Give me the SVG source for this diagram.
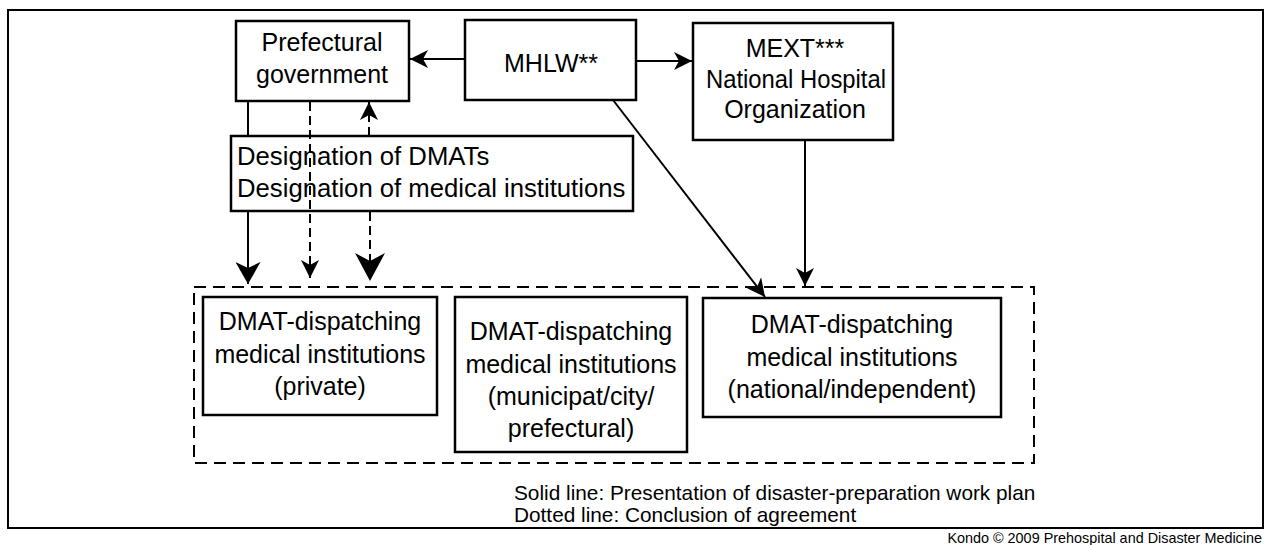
<svg xmlns="http://www.w3.org/2000/svg" width="1270" height="545" viewBox="0 0 1270 545">
<style>
  text { font-family: "Liberation Sans", Arial, sans-serif; fill: #000; }
  .t { font-size: 25px; text-anchor: middle; }
  .d { font-size: 25.7px; }
  .leg { font-size: 20.8px; }
  .cr { font-size: 14.4px; text-anchor: end; }
  .box { fill: none; stroke: #000; stroke-width: 2.5; }
  .frame { fill: none; stroke: #000; stroke-width: 2; }
  .group { fill: none; stroke: #000; stroke-width: 2; stroke-dasharray: 12 7; }
  .ln { fill: none; stroke: #000; stroke-width: 2; }
  .dash { fill: none; stroke: #000; stroke-width: 2; stroke-dasharray: 9 5; }
</style>
<defs>
  <marker id="arr" viewBox="0 0 18 18" markerWidth="18" markerHeight="18" refX="18" refY="9" orient="auto" markerUnits="userSpaceOnUse">
    <path d="M0,0 L18,9 L0,18 L5,9 Z" fill="#000" stroke="none"/>
  </marker>
  <marker id="arrL" viewBox="0 0 22 25" markerWidth="22" markerHeight="25" refX="22" refY="12.5" orient="auto" markerUnits="userSpaceOnUse">
    <path d="M0,0 L22,12.5 L0,25 L6,12.5 Z" fill="#000" stroke="none"/>
  </marker>
  <marker id="arrXL" viewBox="0 0 28 30" markerWidth="28" markerHeight="30" refX="28" refY="15" orient="auto" markerUnits="userSpaceOnUse">
    <path d="M0,0 L28,15 L0,30 L8,15 Z" fill="#000" stroke="none"/>
  </marker>
</defs>
<rect id="frame" class="frame" x="8" y="10" width="1255" height="518"/>
<g id="connectors">
  <line class="ln" x1="465" y1="59" x2="410" y2="59" marker-end="url(#arr)"/>
  <line class="ln" x1="636" y1="61" x2="692" y2="61" marker-end="url(#arr)"/>
  <line class="ln" x1="248" y1="101" x2="248" y2="136"/>
  <line class="ln" x1="248" y1="211" x2="248" y2="284" marker-end="url(#arrL)"/>
  <line class="dash" x1="310" y1="102" x2="310" y2="278" marker-end="url(#arr)"/>
  <line class="dash" x1="369" y1="136" x2="369" y2="102" marker-end="url(#arr)"/>
  <line class="dash" x1="370" y1="212" x2="370" y2="281" marker-end="url(#arrXL)"/>
  <line class="ln" x1="613" y1="100" x2="765" y2="297" marker-end="url(#arr)"/>
  <line class="ln" x1="805" y1="140" x2="805" y2="286" marker-end="url(#arr)"/>
</g>
<g id="prefectural">
  <rect class="box" x="236" y="21" width="173" height="80"/>
  <text class="t" x="322" y="51">Prefectural</text>
  <text class="t" x="322" y="83">government</text>
</g>
<g id="mhlw">
  <rect class="box" x="465" y="20" width="171" height="80"/>
  <text class="t" x="551" y="72">MHLW**</text>
</g>
<g id="mext">
  <rect class="box" x="693" y="23" width="200" height="117"/>
  <text class="t" x="795" y="57">MEXT***</text>
  <text class="t" x="796" y="88" textLength="180" lengthAdjust="spacingAndGlyphs">National Hospital</text>
  <text class="t" x="795" y="118">Organization</text>
</g>
<g id="designation">
  <rect class="box" x="231" y="136" width="402" height="75"/>
  <text class="d" x="237" y="165">Designation of DMATs</text>
  <text class="d" x="237" y="197">Designation of medical institutions</text>
</g>
<g id="dispatch-group">
  <rect class="group" x="194" y="287" width="840" height="176"/>
</g>
<g id="private">
  <rect class="box" x="203" y="297" width="234" height="118"/>
  <text class="t" x="320" y="330">DMAT-dispatching</text>
  <text class="t" x="320" y="363">medical institutions</text>
  <text class="t" x="320" y="395">(private)</text>
</g>
<g id="municipal">
  <rect class="box" x="455" y="297" width="232" height="155"/>
  <text class="t" x="571" y="340">DMAT-dispatching</text>
  <text class="t" x="571" y="373">medical institutions</text>
  <text class="t" x="571" y="405">(municipat/city/</text>
  <text class="t" x="571" y="437">prefectural)</text>
</g>
<g id="national">
  <rect class="box" x="703" y="298" width="298" height="119"/>
  <text class="t" x="852" y="333">DMAT-dispatching</text>
  <text class="t" x="852" y="366">medical institutions</text>
  <text class="t" x="852" y="398">(national/independent)</text>
</g>
<g id="legend">
  <text class="leg" x="514" y="500">Solid line: Presentation of disaster-preparation work plan</text>
  <text class="leg" x="514" y="522">Dotted line: Conclusion of agreement</text>
</g>
<text class="cr" x="1262" y="543">Kondo © 2009 Prehospital and Disaster Medicine</text>
</svg>
